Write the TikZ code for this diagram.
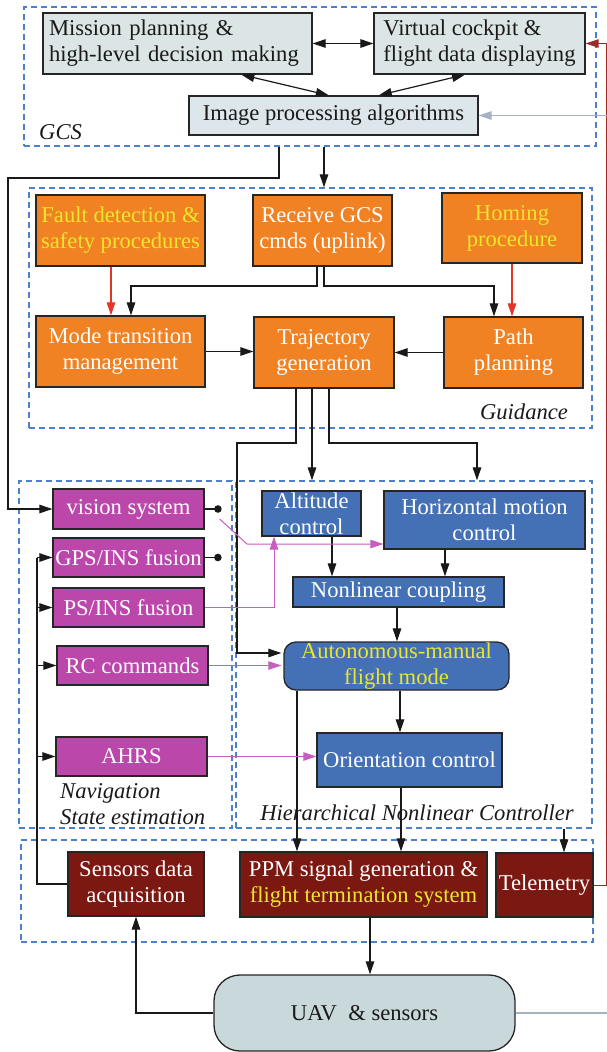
\documentclass[tikz,border=0pt]{standalone}
\usepackage{fontspec}
\setmainfont{Liberation Serif}
\usepackage{xcolor}
\usetikzlibrary{calc}
\usetikzlibrary{positioning,arrows.meta}
\definecolor{gcsgray}{HTML}{DCE5E5}
\definecolor{imggray}{HTML}{DCE6EB}
\definecolor{uavgray}{HTML}{C9D9DB}
\definecolor{guidorange}{HTML}{F08224}
\definecolor{txtyellow}{HTML}{EDE52C}
\definecolor{navmagenta}{HTML}{BC47AB}
\definecolor{ctrlblue}{HTML}{4471B6}
\definecolor{lowred}{HTML}{7A1811}
\definecolor{grpblue}{HTML}{4C80CC}
\definecolor{magline}{HTML}{C85CC0}
\definecolor{redline}{HTML}{E3352A}
\definecolor{telline}{HTML}{A4282A}
\definecolor{grayline}{HTML}{A6B2C2}
\tikzset{
  blk/.style={draw=black!85, line width=1.3pt, inner sep=0pt, align=center, font=\fontsize{22.6}{26}\selectfont},
  gcsbox/.style={blk, fill=gcsgray, text=black!90},
  guidbox/.style={blk, fill=guidorange, text=white},
  navbox/.style={blk, fill=navmagenta, text=white},
  ctrlbox/.style={blk, fill=ctrlblue, text=white},
  lowbox/.style={blk, fill=lowred, text=white},
  grp/.style={draw=grpblue, line width=1.3pt, dash pattern=on 6pt off 4pt, inner sep=0pt},
  grplabel/.style={font=\fontsize{22.6}{26}\selectfont\itshape, text=black!90, inner sep=0pt},
  arr/.style={line width=1.2pt, draw=black!90, -{Triangle[length=13pt,width=8.5pt]}},
  dblarr/.style={arr, {Triangle[length=13pt,width=8.5pt]}-{Triangle[length=13pt,width=8.5pt]}},
  redarr/.style={arr, draw=redline},
  magarr/.style={arr, line width=1pt, draw=magline},
  telarr/.style={arr, line width=0.9pt, draw=telline},
  grayarr/.style={arr, line width=1.4pt, draw=grayline},
  dotline/.style={line width=1.2pt, draw=black!90, -{Circle[length=7.5pt]}}
}

\begin{document}
\begin{tikzpicture}[x=1pt, y=-1pt]
\useasboundingbox (0,0) rectangle (607,1052);
% groups
\node[grp, minimum width=572pt, minimum height=139pt] (gcs) at (310,76.5) {};
\node[grp, minimum width=563pt, minimum height=240pt] (guid) at (310.5,308) {};
\node[grp, minimum width=213pt, minimum height=347pt] (navg) at (125.5,654.5) {};
\node[grp, minimum width=356pt, minimum height=347pt] (hnc) at (414,654.5) {};
\node[grp, minimum width=572pt, minimum height=102pt] (onboard) at (307,891) {};
\node[grplabel, anchor=west] (gcslbl) at (39,132) {GCS};
\node[grplabel] (guidlbl) at (524,412) {Guidance};
\node[grplabel, align=left, anchor=west] (navlbl) at (60,804) {Navigation\\State estimation};
\node[grplabel] (hnclbl) at (417,813) {Hierarchical Nonlinear Controller};
% ground station
\node[gcsbox, align=left, text width=257pt, minimum width=269pt, minimum height=61pt] (mission) at (177.5,43.5) {Mission planning \&\\high-level decision making};
\node[gcsbox, align=left, minimum width=211pt, minimum height=61pt] (cockpit) at (479.5,43.5) {Virtual cockpit \&\\flight data displaying};
\node[gcsbox, fill=imggray, minimum width=289pt, minimum height=39pt] (imgproc) at (333.5,115.5) {Image processing algorithms};
% guidance
\node[guidbox, text=txtyellow, minimum width=169pt, minimum height=71pt] (fault) at (120.5,230.5) {Fault detection \&\\safety procedures};
\node[guidbox, minimum width=139pt, minimum height=71pt] (receive) at (322.5,230.5) {Receive GCS\\cmds (uplink)};
\node[guidbox, text=txtyellow, minimum width=140pt, minimum height=70pt] (homing) at (512,228) {Homing\\procedure};
\node[guidbox, minimum width=169pt, minimum height=71pt] (mode) at (120.5,351.5) {Mode transition\\management};
\node[guidbox, minimum width=140pt, minimum height=71pt] (traj) at (324,352.5) {Trajectory\\generation};
\node[guidbox, minimum width=139pt, minimum height=71pt] (path) at (513.5,352.5) {Path\\planning};
% navigation
\node[navbox, minimum width=151pt, minimum height=40pt] (vision) at (128.5,509) {vision system};
\node[navbox, minimum width=151pt, minimum height=39pt] (gps) at (128.5,557.5) {GPS/INS fusion};
\node[navbox, minimum width=151pt, minimum height=39pt] (ps) at (128.5,607.5) {PS/INS fusion};
\node[navbox, minimum width=151pt, minimum height=39pt] (rc) at (132.5,665.5) {RC commands};
\node[navbox, minimum width=151pt, minimum height=39pt] (ahrs) at (131.5,756.5) {AHRS};
% controller
\node[ctrlbox, minimum width=99pt, minimum height=45pt] (altitude) at (311.5,513.5) {Altitude\\control};
\node[ctrlbox, minimum width=201pt, minimum height=58pt] (horiz) at (484.5,520) {Horizontal motion\\control};
\node[ctrlbox, minimum width=211pt, minimum height=30pt] (coupling) at (398.5,592) {Nonlinear coupling};
\node[ctrlbox, text=txtyellow, rounded corners=12pt, minimum width=225pt, minimum height=48pt] (automode) at (396.5,666) {Autonomous-manual\\flight mode};
\node[ctrlbox, minimum width=185pt, minimum height=54pt] (orient) at (409.5,760) {Orientation control};
% onboard
\node[lowbox, minimum width=136pt, minimum height=64pt] (sensacq) at (136,884) {Sensors data\\acquisition};
\node[lowbox, minimum width=247pt, minimum height=65pt] (ppm) at (363.5,884.5) {PPM signal generation \&\\\textcolor{txtyellow}{flight termination system}};
\node[lowbox, minimum width=97pt, minimum height=64pt] (telem) at (544.5,885) {Telemetry};
\node[gcsbox, fill=uavgray, rounded corners=26pt, minimum width=301pt, minimum height=76pt] (uav) at (364.5,1013) {UAV~ \& sensors};

% ground station links
\draw[dblarr] (mission.east) -- (cockpit.west);
\draw[dblarr] (mission.-26) -- (imgproc.103);
\draw[dblarr] (cockpit.245) -- (imgproc.24);
\draw[arr] (gcs.south -| traj.north) -- (guid.north -| traj.north);
\draw[arr] (gcs.south -| 279,0) |- (8,178) |- (vision.west);
% guidance links
\draw[redarr] (fault.south -| 111,0) -- (mode.north -| 111,0);
\draw[arr] (receive.south -| 317,0) |- (131,286) -- (mode.north -| 131,0);
\draw[arr] (receive.south -| 324,0) |- (494,286) -- (path.north -| 494,0);
\draw[redarr] (homing.south -| 512,0) -- (path.north -| 512,0);
\draw[arr] (mode.east) -- (mode.east -| traj.west);
\draw[arr] (path.west) -- (path.west -| traj.east);
% into the controller
\draw[arr, shorten >=2pt] (traj.south -| 296,0) |- (237,443) |- (automode.west |- 0,653);
\draw[arr] (traj.south -| 312,0) -- (hnc.north -| 312,0);
\draw[arr] (traj.south -| 329,0) |- (477,443) -- (hnc.north -| 477,0);
\draw[arr] (altitude.south -| 332,0) -- (coupling.north -| 332,0);
\draw[arr] (horiz.south -| 445,0) -- (coupling.north -| 445,0);
\draw[arr] (coupling.south -| 397,0) -- (automode.north -| 397,0);
\draw[arr] (automode.south -| 400,0) -- (orient.north -| 400,0);
\draw[arr] (automode.south -| 297,0) -- (ppm.north -| 297,0);
\draw[arr] (orient.south -| 401,0) -- (ppm.north -| 401,0);
\draw[arr] (hnc.south -| 564,0) -- (telem.north -| 564,0);
% navigation outputs
\draw[dotline] (vision.east) -- ++(17,0);
\draw[dotline] (gps.east) -- ++(17,0);
\draw[magarr] ($(vision.east)+(15,10)$) -- (247,544) -- (horiz.west |- 0,544);
\draw[magarr] (ps.east) -| (altitude.south -| 274,0);
\draw[magarr, shorten >=2pt] (rc.east) -- (automode.west |- rc.east);
\draw[magarr] (ahrs.east) -- (orient.west |- ahrs.east);
% sensors bus
\coordinate (navbus) at (37,0);
\draw[line width=1.2pt, draw=black!90] (sensacq.west) -| (navbus |- gps.west);
\foreach \n in {gps,ps,rc,ahrs}
  \draw[arr] (navbus |- \n.west) -- (\n.west);
% vehicle loop
\draw[arr] (ppm.south -| 370,0) -- (uav.north -| 370,0);
\draw[arr] (uav.west) -| (sensacq.south);
\draw[telarr] (telem.east) -| ($(cockpit.east)+(21,0)$) -- (cockpit.east);
\draw[grayarr] (uav.east) -| ($(imgproc.east)+(131,0)$) -- (imgproc.east);
\end{tikzpicture}
\end{document}
